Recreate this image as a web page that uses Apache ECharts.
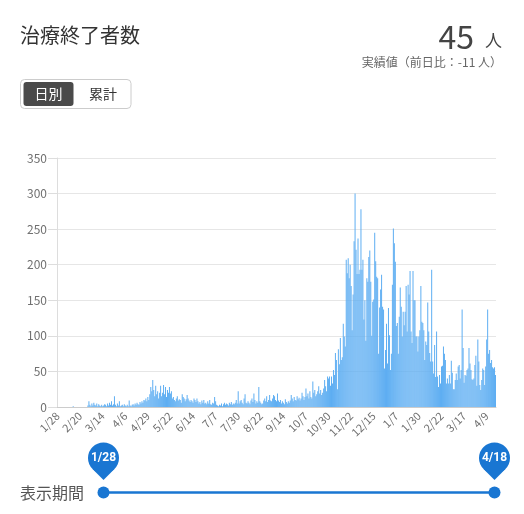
<!DOCTYPE html>
<html><head><meta charset="utf-8">
<script src="https://cdn.jsdelivr.net/npm/echarts@6/dist/echarts.min.js"></script>
<style>html,body{margin:0;padding:0;background:#fff}#c{width:524px;height:514px}</style>
</head><body><div id="c"></div>
<script>
// Daily values, grouped by the 23-day label periods (starting 2020/1/28)
const p0128 = [0,0,0,0,0,0,0,0,0,0,0,0,0,0,0,0,1,0,0,0,0,0,0];
const p0220 = [0,0,0,0,0,0,0,0,2,8,3,1,5,2,6,3,2,5,1,4,2,1,3];
const p0314 = [1,2,4,3,1,5,2,6,3,8,2,4,15,3,1,5,2,8,1,2,3,1,4];
const p0406 = [2,1,3,1,9,2,1,3,4,2,5,3,6,4,3,7,5,8,6,10,9,12,8];
const p0429 = [14,10,18,28,22,38,24,15,30,18,22,12,20,30,15,20,31,18,28,14,24,20,28];
const p0522 = [19,22,12,14,10,8,12,15,9,11,10,6,18,14,12,8,11,17,12,9,7,10,8];
const p0614 = [6,12,10,7,12,8,5,7,4,9,6,10,5,6,4,8,5,10,4,3,6,5,14];
const p0707 = [8,3,2,1,3,2,5,1,4,6,3,5,4,2,6,4,7,3,5,4,6,10,5];
const p0730 = [22,5,8,10,6,4,12,18,6,5,8,6,4,9,12,7,19,10,5,8,6,28,8];
const p0822 = [6,4,5,9,12,8,15,7,10,17,9,8,12,17,15,10,8,19,9,7,10,5,8];
const p0914 = [6,4,11,7,5,8,6,9,17,12,8,14,10,9,15,11,13,9,12,20,15,10,14];
const p1007 = [26,15,19,12,22,14,12,36,20,24,15,18,22,29,19,24,17,20,26,38,29,22,43];
const p1030 = [40,43,30,43,33,52,45,76,66,25,81,60,97,66,70,117,99,85,207,188,209,181,200];
const p1122 = [170,108,158,233,300,221,187,237,187,193,278,193,207,123,150,93,181,176,211,220,176,100,148];
const p1215 = [151,245,205,183,181,75,140,165,186,141,137,54,80,117,61,139,101,52,75,172,251,230,204];
const p0107 = [114,118,75,127,168,141,99,134,115,134,170,106,172,158,191,106,90,191,150,150,99,99,78];
const p0130 = [99,108,170,120,118,108,66,92,87,147,106,76,64,193,64,47,87,42,106,43,28,45,33];
const p0222 = [57,58,85,75,66,33,40,33,45,33,65,48,25,25,38,47,38,57,59,40,52,137,83];
const p0317 = [34,45,44,52,54,83,61,52,39,38,40,59,72,30,95,64,31,24,38,54,52,31,57];
const p0409 = [95,137,75,80,62,66,56,54,56,45];

const values = [].concat(p0128,p0220,p0314,p0406,p0429,p0522,p0614,p0707,p0730,p0822,
  p0914,p1007,p1030,p1122,p1215,p0107,p0130,p0222,p0317,p0409);

const startDate = Date.UTC(2020, 0, 28);
const categories = values.map((v, i) => {
  const d = new Date(startDate + i * 86400000);
  return (d.getUTCMonth() + 1) + '/' + d.getUTCDate();
});
const yTicks = [0, 50, 100, 150, 200, 250, 300, 350];

const FONT = '"Noto Sans CJK JP", "Noto Sans", sans-serif';
const BLUE = '#1976d2';
const chart = echarts.init(document.getElementById('c'), null, {renderer: 'canvas'});

const x1 = 103.5, x2 = 494.5, pinY = 458, lineY = 492.5, r = 15.5, t = 10.96;
function pin(cx, label) {
  return [
    {type: 'circle', shape: {cx: cx, cy: pinY, r: r}, style: {fill: BLUE}},
    {type: 'polygon', shape: {points: [[cx - t, pinY + t], [cx + t, pinY + t], [cx, pinY + 22]]}, style: {fill: BLUE}},
    {type: 'text', x: cx, y: pinY, style: {text: label, fill: '#fff', font: 'bold 12px Roboto, sans-serif', textAlign: 'center', textVerticalAlign: 'middle'}}
  ];
}

chart.setOption({
  animation: false,
  grid: {left: 57, right: 28, top: 158, bottom: 107, containLabel: false},
  xAxis: {
    type: 'category',
    data: categories,
    axisLine: {lineStyle: {color: '#cccccc'}},
    axisTick: {show: false},
    axisLabel: {interval: 22, rotate: 45, fontSize: 11, color: '#707070', fontFamily: FONT, margin: 7}
  },
  yAxis: {
    type: 'value',
    min: yTicks[0], max: yTicks[yTicks.length - 1], interval: 50,
    axisLine: {show: true, lineStyle: {color: '#dddddd'}},
    axisTick: {show: true, length: 9, lineStyle: {color: '#dddddd'}},
    axisLabel: {fontSize: 12, color: '#707070', fontFamily: FONT, margin: 10},
    splitLine: {lineStyle: {color: '#e6e6e6'}}
  },
  series: [{
    type: 'bar',
    data: values,
    barCategoryGap: '10%',
    itemStyle: {color: '#5eaef2'}
  }],
  graphic: [
    {type: 'text', x: 20, y: 35, style: {text: '治療終了者数', fill: '#333', font: '20px ' + FONT, textVerticalAlign: 'middle'}},
    {type: 'text', x: 474, y: 37, style: {text: '45', fill: '#444', font: '32px ' + FONT, textAlign: 'right', textVerticalAlign: 'middle'}},
    {type: 'text', x: 502, y: 41, style: {text: '人', fill: '#444', font: '17px ' + FONT, textAlign: 'right', textVerticalAlign: 'middle'}},
    {type: 'text', x: 502, y: 62.5, style: {text: '実績値（前日比：-11 人）', fill: '#666', font: '12px ' + FONT, textAlign: 'right', textVerticalAlign: 'middle'}},
    {type: 'rect', shape: {x: 20.5, y: 79.5, width: 110.5, height: 29, r: 4}, style: {fill: '#fff', stroke: '#cccccc', lineWidth: 1}},
    {type: 'rect', shape: {x: 23.5, y: 82, width: 50, height: 24, r: 3}, style: {fill: '#4a4a4a'}},
    {type: 'text', x: 48.5, y: 94, style: {text: '日別', fill: '#fff', font: '14px ' + FONT, textAlign: 'center', textVerticalAlign: 'middle'}},
    {type: 'text', x: 103, y: 94, style: {text: '累計', fill: '#333', font: '14px ' + FONT, textAlign: 'center', textVerticalAlign: 'middle'}},
    {type: 'text', x: 20, y: 493, style: {text: '表示期間', fill: '#555', font: '16px ' + FONT, textVerticalAlign: 'middle'}},
    {type: 'line', shape: {x1: x1, y1: lineY, x2: x2, y2: lineY}, style: {stroke: BLUE, lineWidth: 2.5}},
    {type: 'circle', shape: {cx: x1, cy: lineY, r: 6}, style: {fill: BLUE}},
    {type: 'circle', shape: {cx: x2, cy: lineY, r: 6}, style: {fill: BLUE}}
  ].concat(pin(x1, categories[0]), pin(x2, categories[categories.length - 1]))
});
</script></body></html>
